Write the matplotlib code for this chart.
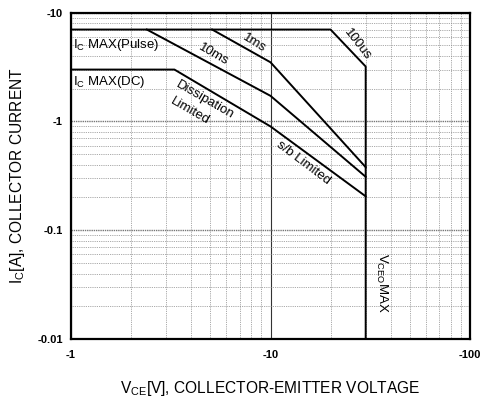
import matplotlib
matplotlib.use("Agg")
import matplotlib.pyplot as plt
from matplotlib.ticker import FixedLocator, FixedFormatter, LogLocator, NullFormatter

plt.rcParams['font.family'] = ['Liberation Sans', 'DejaVu Sans']
plt.rcParams['mathtext.fontset'] = 'custom'
plt.rcParams['mathtext.rm'] = 'Liberation Sans'

# Data (magnitudes; axis labels shown negative as in datasheet)
dc_v = [1, 3.3, 10, 30]
dc_i = [3.0, 3.0, 0.9, 0.205]
ms10_v = [2.4, 10, 30]
ms10_i = [7.0, 1.72, 0.31]
ms1_v = [5.1, 10, 30]
ms1_i = [7.0, 3.5, 0.38]
us100_v = [1, 20, 30, 30]
us100_i = [7.0, 7.0, 3.2, 0.01]

x_ticks = [1, 10, 100]
x_ticklabels = ["-1", "-10", "-100"]
y_ticks = [0.01, 0.1, 1, 10]
y_ticklabels = ["-0.01", "-0.1", "-1", "-10"]

fig = plt.figure(figsize=(4.81, 4.01), dpi=100)
ax = fig.add_axes([71/481, 1-339/401, (470-71)/481, (339-12.7)/401])
ax.set_xscale('log')
ax.set_yscale('log')
ax.set_xlim(1, 100)
ax.set_ylim(0.01, 10)

ax.xaxis.set_major_locator(FixedLocator(x_ticks))
ax.xaxis.set_major_formatter(FixedFormatter(x_ticklabels))
ax.yaxis.set_major_locator(FixedLocator(y_ticks))
ax.yaxis.set_major_formatter(FixedFormatter(y_ticklabels))
ax.xaxis.set_minor_locator(LogLocator(base=10, subs=range(2, 10)))
ax.yaxis.set_minor_locator(LogLocator(base=10, subs=range(2, 10)))
ax.xaxis.set_minor_formatter(NullFormatter())
ax.yaxis.set_minor_formatter(NullFormatter())

ax.grid(which='minor', linestyle=(0, (1, 1.2)), color='#8c8c8c', linewidth=0.6)
ax.grid(which='major', axis='y', linestyle=(0, (1, 0.6)), color='#777777', linewidth=1.0)
ax.grid(which='major', axis='x', linestyle='-', color='#333333', linewidth=0.8)

ax.tick_params(which='both', length=0)
ax.tick_params(axis='x', pad=8, labelsize=8)
ax.tick_params(axis='y', pad=6, labelsize=8)
for lbl in ax.get_xticklabels() + ax.get_yticklabels():
    lbl.set_fontweight('bold')

for s in ax.spines.values():
    s.set_linewidth(1.6)
    s.set_color('black')

lw = 1.4
ax.plot(dc_v, dc_i, color='black', lw=lw)
ax.plot(ms10_v, ms10_i, color='black', lw=lw)
ax.plot(ms1_v, ms1_i, color='black', lw=lw)
ax.plot(us100_v, us100_i, color='black', lw=lw)

fs = 9.5
def px(x, y):
    return (x/481, 1-y/401)

fig.text(*px(73, 45), r'I$_\mathregular{C}$ MAX(Pulse)', fontsize=fs, ha='left', va='center')
fig.text(*px(73, 82), r'I$_\mathregular{C}$ MAX(DC)', fontsize=fs, ha='left', va='center')
fig.text(*px(214, 55), '10ms', fontsize=fs, ha='center', va='center', rotation=-30)
fig.text(*px(254, 43), '1ms', fontsize=fs, ha='center', va='center', rotation=-32)
fig.text(*px(357, 44), '100us', fontsize=fs, ha='center', va='center', rotation=-52)
fig.text(*px(205, 100), 'Dissipation', fontsize=fs, ha='center', va='center', rotation=-30)
fig.text(*px(190, 111), 'Limited', fontsize=fs, ha='center', va='center', rotation=-30)
fig.text(*px(303, 163), 's/b Limited', fontsize=fs, ha='center', va='center', rotation=-37)
fig.text(*px(382, 283), r'V$_\mathregular{CEO}$MAX', fontsize=fs, ha='center', va='center', rotation=-90)

fig.text(*px(270, 388), r'V$_\mathregular{CE}$[V], COLLECTOR-EMITTER VOLTAGE', fontsize=11.2, ha='center', va='center')
fig.text(*px(18, 176), r'I$_\mathregular{C}$[A], COLLECTOR CURRENT', fontsize=11.2, ha='center', va='center', rotation=90)

fig.savefig('out.png', dpi=100)
